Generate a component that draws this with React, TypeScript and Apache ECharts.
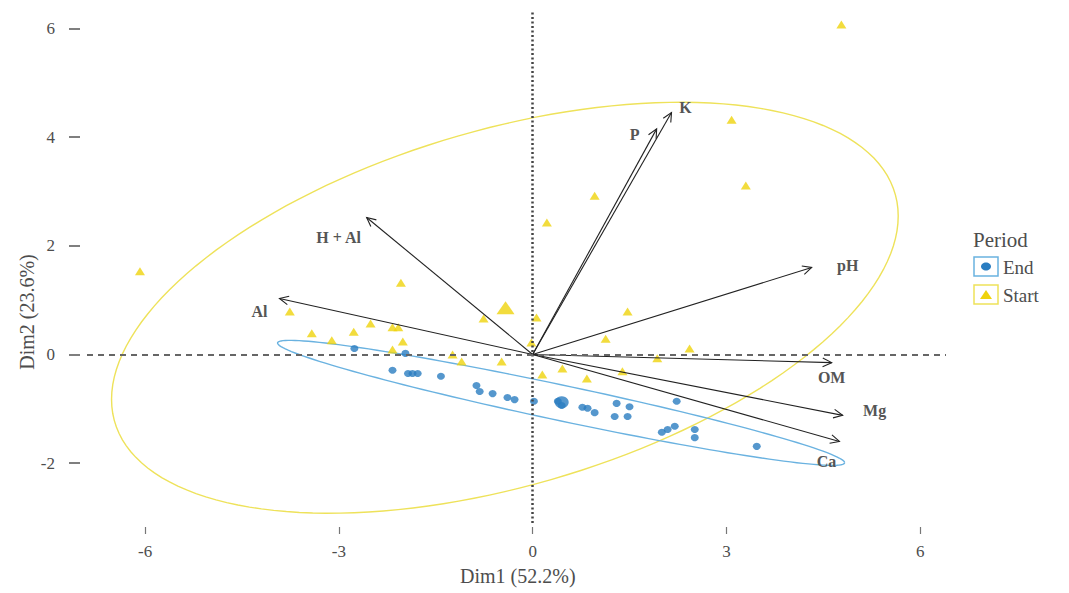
import React, { useEffect, useRef } from "react";
import * as echarts from "echarts";

// ---- data ----
const xTicks = [-6, -3, 0, 3, 6];
const yTicks = [-2, 0, 2, 4, 6];

const startPoints: [number, number][] = [
  [4.78, 6.07], [3.08, 4.32], [3.3, 3.11], [0.96, 2.92], [0.22, 2.43],
  [-6.08, 1.53], [-2.04, 1.32], [-3.76, 0.79], [-0.76, 0.66], [1.47, 0.79],
  [0.06, 0.68], [-3.42, 0.39], [-3.11, 0.26], [-2.77, 0.42], [-2.51, 0.57],
  [-2.17, 0.5], [-2.08, 0.5], [-2.01, 0.24], [-2.17, 0.09], [-1.24, 0.0],
  [-1.1, -0.13], [-0.48, -0.13], [-0.02, 0.22], [0.15, -0.37], [0.46, -0.26],
  [0.84, -0.44], [1.13, 0.29], [1.39, -0.31], [1.93, -0.07], [2.43, 0.11],
];
const endPoints: [number, number][] = [
  [-2.76, 0.11], [-1.97, 0.02], [-2.17, -0.29], [-1.93, -0.35], [-1.86, -0.35],
  [-1.78, -0.35], [-1.42, -0.4], [-0.87, -0.57], [-0.82, -0.68], [-0.62, -0.72],
  [-0.39, -0.79], [-0.28, -0.83], [0.02, -0.86], [0.39, -0.86], [0.45, -0.94],
  [0.77, -0.97], [0.85, -0.99], [0.96, -1.07], [1.3, -0.9], [1.5, -0.96],
  [1.27, -1.14], [1.47, -1.14], [2.23, -0.86], [2.0, -1.43], [2.09, -1.38],
  [2.2, -1.32], [2.51, -1.38], [2.51, -1.53], [3.47, -1.69],
];
const startMean: [number, number] = [-0.42, 0.86];
const endMean: [number, number] = [0.45, -0.88];

const variables = ["K", "P", "pH", "OM", "Mg", "Ca", "Al", "H + Al"];
const loadingX = [2.15, 1.92, 4.32, 4.63, 4.8, 4.75, -3.92, -2.57];
const loadingY = [4.45, 4.15, 1.6, -0.15, -1.12, -1.6, 1.03, 2.52];

// confidence ellipses: [centerX, centerY, radiusX, radiusY, correlation]
const startEllipse = [-0.43, 0.86, 6.09, 3.78, 0.446];
const endEllipse = [0.44, -0.89, 4.39, 1.15, -0.957];

// ---- styling ----
const SERIF = '"Liberation Serif", "Times New Roman", serif';
const TEXT = "#4d4d4d";
const YELLOW = "#EFD30C";
const YELLOW_LINE = "#EEE25A";
const BLUE = "#2A7DC1";
const BLUE_LINE = "#6AB2E0";
const labelOffsets: [number, number][] = [
  [14, -5], [-22, 6], [36, -2], [0, 15], [32, -5], [-13, 20], [-20, 13], [-28, 20],
];

function ellipseRenderer(color: string) {
  return (params: any, api: any) => {
    const h = api.value(0), k = api.value(1), rx = api.value(2), ry = api.value(3), rho = api.value(4);
    const d = Math.acos(rho);
    const pts: number[][] = [];
    const n = 160;
    for (let i = 0; i <= n; i++) {
      const t = (i / n) * 2 * Math.PI;
      pts.push(api.coord([h + rx * Math.cos(t), k + ry * Math.cos(t - d)]));
    }
    return {
      type: "polyline",
      shape: { points: pts },
      style: { fill: "none", stroke: color, lineWidth: 1.4 },
    };
  };
}

export default function App() {
  const ref = useRef<HTMLDivElement>(null);
  useEffect(() => {
    if (!ref.current) return;
    const chart = echarts.init(ref.current, undefined, { renderer: "svg" });
    const arrowData = variables.map((v, i) => ({ name: v, value: [loadingX[i], loadingY[i]] }));
    const option: any = {
      animation: false,
      backgroundColor: "#ffffff",
      grid: { left: 87, top: 12, width: 859, height: 511 },
      xAxis: {
        type: "value",
        min: -6.9,
        max: 6.4,
        offset: 4,
        splitLine: { show: false },
        axisLine: { show: false, onZero: false },
        axisTick: { show: true, length: 7, customValues: xTicks, lineStyle: { color: "#777", width: 1.2 } },
        axisLabel: { customValues: xTicks, margin: 16, color: TEXT, fontFamily: SERIF, fontSize: 17 },
      },
      yAxis: {
        type: "value",
        min: -3.1,
        max: 6.3,
        offset: 7,
        splitLine: { show: false },
        axisLine: { show: false, onZero: false },
        axisTick: { show: true, length: 11, customValues: yTicks, lineStyle: { color: "#555", width: 1.5 } },
        axisLabel: { customValues: yTicks, margin: 25, color: TEXT, fontFamily: SERIF, fontSize: 17 },
      },
      graphic: [
        { type: "text", left: 460, top: 566, style: { text: "Dim1 (52.2%)", font: `20px ${SERIF}`, fill: TEXT } },
        {
          type: "text", x: 27, y: 312, rotation: Math.PI / 2,
          style: { text: "Dim2 (23.6%)", font: `20px ${SERIF}`, fill: TEXT, align: "center", verticalAlign: "middle" },
        },
        { type: "text", x: 973, y: 240, style: { text: "Period", font: `21px ${SERIF}`, fill: TEXT, verticalAlign: "middle" } },
        { type: "rect", shape: { x: 974, y: 257, width: 24, height: 19 }, style: { fill: "#fff", stroke: BLUE_LINE, lineWidth: 1.5 } },
        { type: "ellipse", shape: { cx: 986, cy: 266.5, rx: 5, ry: 4 }, style: { fill: BLUE } },
        { type: "text", x: 1003, y: 267, style: { text: "End", font: `19px ${SERIF}`, fill: TEXT, verticalAlign: "middle" } },
        { type: "rect", shape: { x: 974, y: 285, width: 24, height: 19 }, style: { fill: "#fff", stroke: YELLOW_LINE, lineWidth: 1.5 } },
        { type: "polygon", shape: { points: [[986, 290], [992, 299], [980, 299]] }, style: { fill: YELLOW } },
        { type: "text", x: 1003, y: 295, style: { text: "Start", font: `19px ${SERIF}`, fill: TEXT, verticalAlign: "middle" } },
      ],
      series: [
        {
          type: "custom",
          name: "Start ellipse",
          renderItem: ellipseRenderer(YELLOW_LINE),
          dimensions: ["cx", "cy", "rx", "ry", "rho"],
          encode: { x: "cx", y: "cy" },
          data: [startEllipse],
          silent: true,
          clip: false,
          z: 1,
          markLine: {
            silent: true,
            symbol: "none",
            label: { show: false },
            data: [
              { xAxis: 0, lineStyle: { type: [2, 2.5], color: "#444", width: 2.5 } },
              { yAxis: 0, lineStyle: { type: [6, 5], color: "#666", width: 2 } },
            ],
          },
        },
        {
          type: "custom",
          name: "End ellipse",
          renderItem: ellipseRenderer(BLUE_LINE),
          dimensions: ["cx", "cy", "rx", "ry", "rho"],
          encode: { x: "cx", y: "cy" },
          data: [endEllipse],
          silent: true,
          clip: false,
          z: 1,
        },
        {
          type: "scatter",
          name: "Start",
          symbol: "triangle",
          symbolSize: [10, 8],
          itemStyle: { color: YELLOW },
          data: startPoints,
          z: 2,
        },
        {
          type: "scatter",
          name: "End",
          symbol: "circle",
          symbolSize: [8, 7],
          itemStyle: { color: BLUE },
          data: endPoints,
          z: 2,
        },
        {
          type: "scatter",
          name: "Start mean",
          symbol: "triangle",
          symbolSize: [18, 13],
          itemStyle: { color: YELLOW },
          data: [startMean],
          z: 2,
        },
        {
          type: "scatter",
          name: "End mean",
          symbol: "circle",
          symbolSize: [14, 12],
          itemStyle: { color: BLUE },
          data: [endMean],
          z: 2,
        },
        {
          type: "custom",
          name: "Variables",
          data: arrowData,
          z: 3,
          clip: false,
          renderItem: (params: any, api: any) => {
            const o = api.coord([0, 0]);
            const t = api.coord([api.value(0), api.value(1)]);
            const ang = Math.atan2(t[1] - o[1], t[0] - o[0]);
            const L = 10, a = Math.PI / 7;
            const p1 = [t[0] - L * Math.cos(ang - a), t[1] - L * Math.sin(ang - a)];
            const p2 = [t[0] - L * Math.cos(ang + a), t[1] - L * Math.sin(ang + a)];
            const off = labelOffsets[params.dataIndex];
            return {
              type: "group",
              children: [
                { type: "line", shape: { x1: o[0], y1: o[1], x2: t[0], y2: t[1] }, style: { stroke: "#222", lineWidth: 1.1 } },
                { type: "polyline", shape: { points: [p1, t, p2] }, style: { stroke: "#222", fill: "none", lineWidth: 1.1 } },
                {
                  type: "text",
                  x: t[0] + off[0],
                  y: t[1] + off[1],
                  style: {
                    text: variables[params.dataIndex],
                    font: `bold 16px ${SERIF}`,
                    fill: "#555",
                    align: "center",
                    verticalAlign: "middle",
                  },
                },
              ],
            };
          },
        },
      ],
    };
    chart.setOption(option);
    return () => chart.dispose();
  }, []);
  return (
    <div
      ref={ref}
      style={{ position: "absolute", left: 0, top: 0, width: 1069, height: 593, background: "#fff" }}
    />
  );
}
